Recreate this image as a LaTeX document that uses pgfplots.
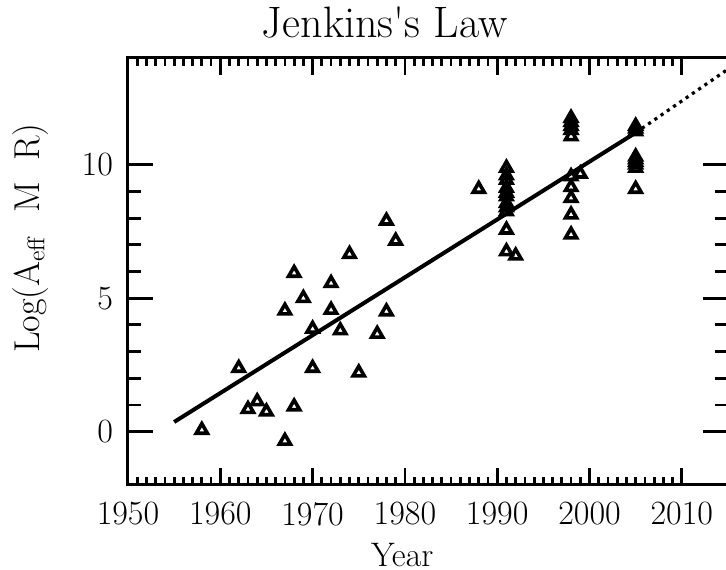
\documentclass[border=0pt]{standalone}
\usepackage{pgfplots}
\pgfplotsset{compat=1.18}
\pgfplotstableread{
x y
1958 0.06
1962 2.38
1963 0.84
1964 1.13
1965 0.75
1967 -0.35
1967 4.53
1968 0.94
1968 5.94
1969 5.00
1970 3.85
1970 2.38
1972 5.56
1972 4.56
1973 3.79
1974 6.65
1975 2.21
1977 3.66
1978 7.90
1978 4.50
1979 7.15
1988 9.09
1991 9.88
1991 9.60
1991 9.43
1991 9.13
1991 8.95
1991 8.81
1991 8.56
1991 8.40
1991 8.25
1991 7.56
1991 6.75
1992 6.59
1998 11.75
1998 11.60
1998 11.45
1998 11.30
1998 11.06
1998 9.56
1999 9.66
1998 9.16
1998 8.75
1998 8.13
1998 7.38
2005 11.45
2005 11.35
2005 11.25
2005 10.30
2005 10.20
2005 10.10
2005 10.00
2005 9.88
2005 9.09
}\pts
\begin{document}
\begin{tikzpicture}
\begin{axis}[
  scale only axis, width=300pt, height=213.5pt,
  xmin=1950, xmax=2015, ymin=-2, ymax=14,
  clip=false,
  xtick={1950,1960,...,2010}, minor x tick num=9,
  ytick={0,5,10}, minor y tick num=4,
  tick align=inside,
  axis line style={line width=1.5pt},
  tick style={black, line width=1.4pt},
  major tick length=12.5pt, minor tick length=6.5pt,
  xtick style={/pgfplots/major tick length=8.5pt, /pgfplots/minor tick length=4pt},
  /pgf/number format/assume math mode=true,
  tick label style={font=\fontsize{17}{20}\selectfont},
  xticklabel style={yshift=-5pt, /pgf/number format/1000 sep={}},
  yticklabel style={xshift=-4pt},
]
\addplot[only marks, mark=triangle, mark size=3.2pt, line width=1.8pt, black] table[x=x,y=y]{\pts};
\addplot[black, line width=2pt] coordinates {(1955,0.36) (2005,11.2)};
\addplot[black, line width=1.6pt, dash pattern=on 1.6pt off 2.2pt] coordinates {(2005,11.2) (2015,13.58)};
\coordinate (bbA) at (rel axis cs:-0.2133,-0.1991);
\coordinate (bbB) at (rel axis cs:0.9967,1.1358);
\node[anchor=base, font=\fontsize{22}{26}\selectfont] at (rel axis cs:0.428,1.049) {Jenkins\textquotesingle s Law};
\node[anchor=base, font=\fontsize{17}{20}\selectfont] at (rel axis cs:0.457,-0.19) {Year};
\node[anchor=center, rotate=90, font=\fontsize{18}{21}\selectfont] at (rel axis cs:-0.163,0.578) {Log(A$_{\mathrm{eff}}$~~M~~R)};
\end{axis}
\pgfresetboundingbox
\path[use as bounding box] (bbA) rectangle (bbB);
\end{tikzpicture}
\end{document}
